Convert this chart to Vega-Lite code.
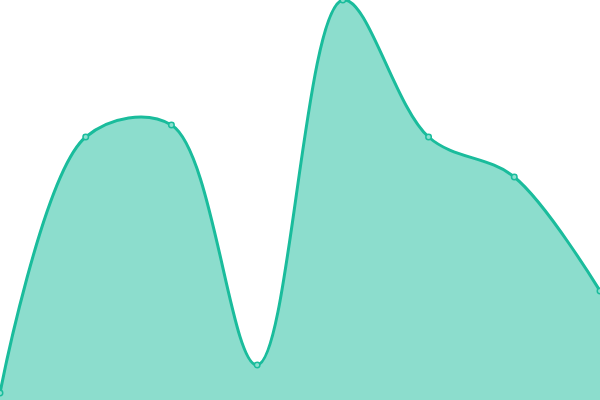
{
  "$schema": "https://vega.github.io/schema/vega-lite/v6.json",
  "autosize": {"type": "none"},
  "width": 600,
  "height": 400,
  "padding": 0,
  "background": "white",
  "config": {"view": {"stroke": null}},
  "data": {"values": [
    {"i": 0, "v": 7},
    {"i": 1, "v": 263},
    {"i": 2, "v": 275},
    {"i": 3, "v": 35},
    {"i": 4, "v": 400},
    {"i": 5, "v": 263},
    {"i": 6, "v": 223},
    {"i": 7, "v": 109}
  ]},
  "encoding": {
    "x": {"field": "i", "type": "quantitative", "scale": {"domain": [0, 7], "nice": false, "zero": false}, "axis": null},
    "y": {"field": "v", "type": "quantitative", "scale": {"domain": [0, 400], "nice": false}, "axis": null}
  },
  "layer": [
    {"mark": {"type": "area", "interpolate": "catmull-rom", "color": "#1abc9c", "opacity": 0.5}},
    {"mark": {"type": "line", "interpolate": "catmull-rom", "color": "#1abc9c", "strokeWidth": 3}},
    {"mark": {"type": "point", "filled": true, "fill": "#8ce0cf", "stroke": "#1abc9c", "strokeWidth": 1.5, "size": 30, "opacity": 1}}
  ]
}
